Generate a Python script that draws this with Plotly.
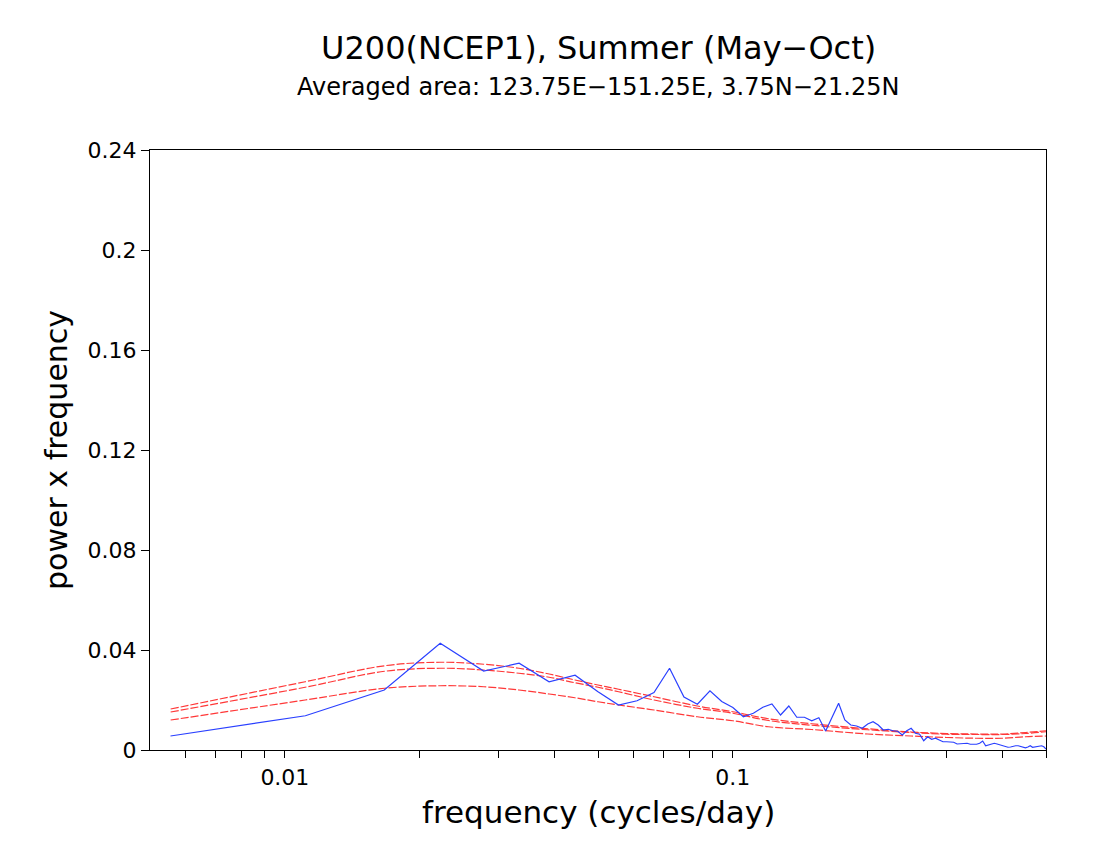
import plotly.graph_objects as go

# spectrum: harmonics k/180 cycles/day, k = 1..90
freq = [k / 180 for k in range(1, 91)]
power = [
    0.0056, 0.0137, 0.0240, 0.0427, 0.0316, 0.0347, 0.0273, 0.0299, 0.0233, 0.0180,
    0.0197, 0.0230, 0.0327, 0.0212, 0.0183, 0.0237, 0.0194, 0.0170, 0.0133, 0.0147,
    0.0171, 0.0184, 0.0140, 0.0176, 0.0131, 0.0131, 0.0117, 0.0129, 0.0076, 0.0133,
    0.0187, 0.0120, 0.0100, 0.0096, 0.0087, 0.0104, 0.0113, 0.0100, 0.0080, 0.0083,
    0.0077, 0.0075, 0.0060, 0.0077, 0.0087, 0.0067, 0.0063, 0.0037, 0.0053, 0.0043,
    0.0047, 0.0040, 0.0033, 0.0033, 0.0033, 0.0031, 0.0024, 0.0024, 0.0024, 0.0027,
    0.0023, 0.0023, 0.0023, 0.0027, 0.0036, 0.0017, 0.0020, 0.0023, 0.0027, 0.0024,
    0.0020, 0.0017, 0.0013, 0.0011, 0.0012, 0.0016, 0.0017, 0.0017, 0.0015, 0.0012,
    0.0009, 0.0012, 0.0017, 0.0011, 0.0013, 0.0015, 0.0016, 0.0017, 0.0013, 0.0004,
]

# red noise curves (read at a coarser set of frequencies)
red_freq = [0.00556, 0.0111, 0.0167, 0.0222, 0.0278, 0.0333, 0.0389, 0.0444, 0.05,
            0.0556, 0.0667, 0.0833, 0.1, 0.12, 0.15, 0.2, 0.25, 0.3, 0.35, 0.4, 0.45, 0.5]
red_upper = [0.0164, 0.0273, 0.0337, 0.0351, 0.0343, 0.0327, 0.0304, 0.0280, 0.0260,
             0.0243, 0.0213, 0.0176, 0.0153, 0.0125, 0.0105, 0.0085, 0.0072, 0.0066,
             0.0064, 0.0064, 0.0070, 0.0077]
red_middle = [0.0152, 0.0251, 0.0315, 0.0327, 0.0320, 0.0307, 0.0291, 0.0269, 0.0251,
              0.0233, 0.0200, 0.0167, 0.0147, 0.0118, 0.0099, 0.0081, 0.0070, 0.0063,
              0.0062, 0.0062, 0.0066, 0.0073]
red_lower = [0.0120, 0.0200, 0.0247, 0.0257, 0.0253, 0.0240, 0.0224, 0.0209, 0.0193,
             0.0180, 0.0160, 0.0133, 0.0117, 0.0093, 0.0082, 0.0064, 0.0056, 0.0050,
             0.0047, 0.0047, 0.0053, 0.0056]

y_ticks = [0, 0.04, 0.08, 0.12, 0.16, 0.2, 0.24]
y_labels = ["0", "0.04", "0.08", "0.12", "0.16", "0.2", "0.24"]

FONT = "DejaVu Sans"
RED = "#ff3838"
BLUE = "#2a40ff"

fig = go.Figure()

for curve in [red_upper, red_middle, red_lower]:
    fig.add_trace(go.Scatter(x=red_freq, y=curve, mode="lines", line_shape="spline",
                             line=dict(color=RED, width=1.2, dash="8px,2px"),
                             hoverinfo="skip"))

fig.add_trace(go.Scatter(x=freq, y=power, mode="lines",
                         line=dict(color=BLUE, width=1.2)))

# log-axis ticks: labels only at decades
x_tickvals = []
x_ticktext = []
for dec in [0.001, 0.01, 0.1]:
    for m in range(1, 10):
        v = round(m * dec, 6)
        if 0.005 < v <= 0.5:
            x_tickvals.append(v)
            x_ticktext.append(str(v) if m == 1 else "")

# page body adds an 8px offset, margins compensate
fig.update_layout(
    width=1100, height=850,
    margin=dict(l=142, r=62, t=142, b=108),
    paper_bgcolor="white", plot_bgcolor="white",
    showlegend=False,
    font=dict(family=FONT, color="black"),
    xaxis=dict(type="log", range=[-2.30103, -0.30103],
               tickvals=x_tickvals, ticktext=x_ticktext,
               ticks="outside", ticklen=7, tickwidth=1.2, tickcolor="black",
               showline=True, linecolor="black", linewidth=1.2, mirror=True,
               showgrid=False, zeroline=False,
               tickfont=dict(size=22)),
    yaxis=dict(range=[0, 0.24], tickvals=y_ticks, ticktext=y_labels,
               ticks="outside", ticklen=8, tickwidth=1.2, tickcolor="black",
               showline=True, linecolor="black", linewidth=1.2, mirror=True,
               showgrid=False, zeroline=False,
               tickfont=dict(size=22)),
    annotations=[
        dict(text="U200(NCEP1), Summer (May−Oct)", x=0.5, y=1.17, xref="paper", yref="paper",
             showarrow=False, font=dict(size=32), xanchor="center", yanchor="middle"),
        dict(text="Averaged area: 123.75E−151.25E, 3.75N−21.25N", x=0.5, y=1.105,
             xref="paper", yref="paper", showarrow=False, font=dict(size=24),
             xanchor="center", yanchor="middle"),
        dict(text="frequency (cycles/day)", x=0.5, y=-0.103, xref="paper", yref="paper",
             showarrow=False, font=dict(size=31), xanchor="center", yanchor="middle"),
        dict(text="power x frequency", x=-0.105, y=0.5, xref="paper", yref="paper",
             showarrow=False, font=dict(size=30), textangle=-90,
             xanchor="center", yanchor="middle"),
    ],
)

fig.write_html("out.html")
